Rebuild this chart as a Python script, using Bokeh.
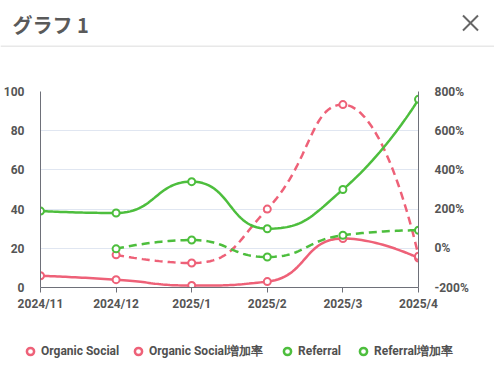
import numpy as np
from bokeh.plotting import figure
from bokeh.layouts import column
from bokeh.models import (Range1d, LinearAxis, FixedTicker, Label, Legend, LegendItem)
from bokeh.embed import file_html
from bokeh.resources import INLINE

# ---------------- data ----------------
months = ["2024/11", "2024/12", "2025/1", "2025/2", "2025/3", "2025/4"]
organic_social = [6, 4, 1, 3, 25, 15]
organic_social_growth = [-33.3, -75.0, 200.0, 733.3, -40.0]   # from 2024/12
referral = [39, 38, 54, 30, 50, 96]
referral_growth = [-2.6, 42.1, -44.4, 66.7, 92.0]             # from 2024/12
left_ticks = [0, 20, 40, 60, 80, 100]
right_ticks = [-200, 0, 200, 400, 600, 800]
series_names = ["Organic Social", "Organic Social増加率", "Referral", "Referral増加率"]
title_text = "グラフ 1"

RED = "#EE6178"
GREEN = "#4DBE3D"
AXIS = "#6E7079"
LABEL = "#555555"
GRID = "#E0E6F1"

W = 494
HEAD_H, CHART_H, LEG_H = 47, 283, 35
BL, BR, BT, BB = 39, 76, 44, 43
PW = W - BL - BR
PH = CHART_H - BT - BB
legend_marker_x = [30, 138, 287, 363]   # legend item positions (px)


def bare_fig(h, yr):
    f = figure(width=W, height=h, output_backend="svg", toolbar_location=None,
               x_range=Range1d(0, W), y_range=yr, x_axis_type=None, y_axis_type=None,
               min_border=0, min_border_left=0, min_border_right=0,
               min_border_top=0, min_border_bottom=0, frame_align=False)
    f.outline_line_color = None
    f.grid.grid_line_color = None
    f.background_fill_color = "white"
    f.border_fill_color = "white"
    return f


# ---------------- header ----------------
head = bare_fig(HEAD_H, Range1d(HEAD_H, 0))
head.add_layout(Label(x=12, y=24, text=title_text, text_font="Noto Sans CJK JP",
                      text_font_size="20px", text_font_style="bold", text_color="#5a5a5a",
                      text_baseline="middle"))
head.segment(x0=[462.5, 462.5], y0=[15, 30], x1=[477.5, 477.5], y1=[30, 15],
             line_color="#666666", line_width=2)
head.segment(x0=[0], y0=[46], x1=[W], y1=[46], line_color="#E8E8E8", line_width=2)

# ---------------- chart ----------------
p = figure(width=W, height=CHART_H, output_backend="svg", toolbar_location=None,
           x_range=Range1d(0, len(months) - 1), y_range=Range1d(0, 100),
           min_border_left=BL, min_border_right=BR, min_border_top=BT, min_border_bottom=BB,
           frame_align=False)
p.extra_y_ranges = {"pct": Range1d(-200, 800)}
p.outline_line_color = None
p.background_fill_color = "white"
p.border_fill_color = "white"

xs_px = PW / (len(months) - 1)
yl_px = PH / 100.0
yr_px = PH / 1000.0


def smooth_curve(xs, ys, sx, sy, smooth=0.5, n=30):
    pts = [(x * sx, y * sy) for x, y in zip(xs, ys)]
    outx, outy = [pts[0][0]], [pts[0][1]]
    cp0 = pts[0]
    L = len(pts)
    for i in range(1, L):
        x, y = pts[i]
        px_, py_ = pts[i - 1]
        if i == L - 1:
            cp1 = (x, y)
            ncp0 = None
        else:
            nx, ny = pts[i + 1]
            vx, vy = nx - px_, ny - py_
            lp = np.hypot(x - px_, y - py_)
            ln = np.hypot(nx - x, ny - y)
            r = ln / (ln + lp)
            ncx = x + vx * smooth * r
            ncy = y + vy * smooth * r
            ncx = min(ncx, max(nx, x)); ncy = min(ncy, max(ny, y))
            ncx = max(ncx, min(nx, x)); ncy = max(ncy, min(ny, y))
            vx, vy = ncx - x, ncy - y
            c1x = x - vx * lp / ln
            c1y = y - vy * lp / ln
            c1x = min(c1x, max(px_, x)); c1y = min(c1y, max(py_, y))
            c1x = max(c1x, min(px_, x)); c1y = max(c1y, min(py_, y))
            vx, vy = x - c1x, y - c1y
            ncp0 = (x + vx * ln / lp, y + vy * ln / lp)
            cp1 = (c1x, c1y)
        t = np.linspace(0, 1, n)[1:]
        bx = (1 - t) ** 3 * px_ + 3 * (1 - t) ** 2 * t * cp0[0] + 3 * (1 - t) * t ** 2 * cp1[0] + t ** 3 * x
        by = (1 - t) ** 3 * py_ + 3 * (1 - t) ** 2 * t * cp0[1] + 3 * (1 - t) * t ** 2 * cp1[1] + t ** 3 * y
        outx.extend(bx); outy.extend(by)
        cp0 = ncp0
    return [v / sx for v in outx], [v / sy for v in outy]


x_all = list(range(len(months)))
x_growth = x_all[1:]

series = [
    (x_all, organic_social, RED, "solid", "default", yl_px),
    (x_growth, organic_social_growth, RED, "8 5", "pct", yr_px),
    (x_all, referral, GREEN, "solid", "default", yl_px),
    (x_growth, referral_growth, GREEN, "8 5", "pct", yr_px),
]

for xs, ys, col, dash, rng, sy in series:
    cx, cy = smooth_curve(xs, ys, xs_px, sy)
    p.line(cx, cy, line_color=col, line_width=2.5, line_dash=dash, y_range_name=rng)
    p.scatter(xs, ys, size=7, marker="circle", fill_color="white", line_color=col,
              line_width=2, y_range_name=rng)

p.xaxis.ticker = FixedTicker(ticks=x_all)
p.xaxis.major_label_overrides = {i: m for i, m in enumerate(months)}
p.xaxis.axis_line_color = AXIS
p.xaxis.major_tick_line_color = AXIS
p.xaxis.major_tick_out = 5
p.xaxis.major_tick_in = 0
p.xaxis.minor_tick_line_color = None
p.xaxis.major_label_standoff = 4

p.yaxis.ticker = FixedTicker(ticks=left_ticks)
p.yaxis.axis_line_color = AXIS
p.yaxis.major_tick_line_color = None
p.yaxis.minor_tick_line_color = None
p.yaxis.major_label_standoff = 10

ra = LinearAxis(y_range_name="pct", ticker=FixedTicker(ticks=right_ticks),
                major_label_overrides={v: f"{v}%" for v in right_ticks})
ra.axis_line_color = AXIS
ra.major_tick_line_color = None
ra.minor_tick_line_color = None
ra.major_label_standoff = 10
p.add_layout(ra, "right")

for ax in [p.xaxis[0], p.yaxis[0], ra]:
    ax.major_label_text_font = "Roboto"
    ax.major_label_text_font_size = "12px"
    ax.major_label_text_font_style = "bold"
    ax.major_label_text_color = LABEL

p.xgrid.grid_line_color = None
p.ygrid.ticker = FixedTicker(ticks=left_ticks)
p.ygrid.grid_line_color = GRID
p.ygrid.grid_line_width = 1

# ---------------- legend ----------------
lg = bare_fig(LEG_H, Range1d(0, LEG_H))
for nm, col, mx in zip(series_names, [RED, RED, GREEN, GREEN], legend_marker_x):
    r = lg.scatter([-100], [-100], size=9, marker="circle", fill_color="white",
                   line_color=col, line_width=2.5)
    leg = Legend(items=[LegendItem(label=nm, renderers=[r])], orientation="horizontal",
                 location=(mx - 9, 5), glyph_width=18, glyph_height=18, label_height=18,
                 label_standoff=2, padding=0, margin=0, border_line_color=None,
                 background_fill_alpha=0, label_text_font="Roboto",
                 label_text_font_size="12px", label_text_font_style="bold",
                 label_text_color="#505050")
    lg.add_layout(leg, "center")

layout = column(head, p, lg, spacing=0)
open("out.html", "w").write(file_html(layout, INLINE))
